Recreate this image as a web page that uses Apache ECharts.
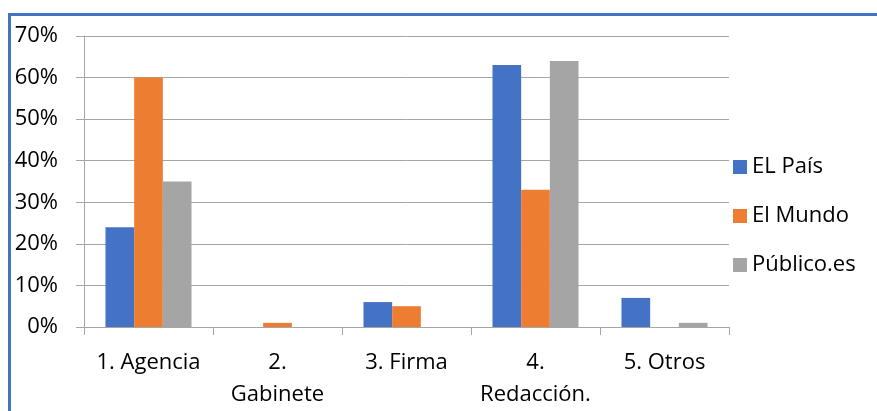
<!DOCTYPE html>
<html><head><meta charset="utf-8">
<script src="https://cdn.jsdelivr.net/npm/echarts@6/dist/echarts.min.js"></script>
<style>
html,body{margin:0;padding:0;background:#fff;}
#frame{position:absolute;left:8px;top:13px;width:869px;height:398px;border-top:3px solid #4472C4;border-left:3px solid #4472C4;box-sizing:border-box;}
#c{position:absolute;left:0;top:0;width:877px;height:411px;}
</style></head>
<body>
<div id="frame"></div>
<div id="c"></div>
<script>
const categories = ["1. Agencia", "2.\nGabinete", "3. Firma", "4.\nRedacción.", "5. Otros"];
const elPais = [24, 0, 6, 63, 7];
const elMundo = [60, 1, 5, 33, 0];
const publico = [35, 0, 0, 64, 1];
const seriesNames = ["EL País", "El Mundo", "Público.es"];
const colors = ["#4472C4", "#ED7D31", "#A5A5A5"];
const FONT = "Open Sans";
const FS = 22;
const chart = echarts.init(document.getElementById('c'));
const mk = (name, data, color) => ({
  name, type: 'bar', data, itemStyle: {color},
  barGap: '0%', barCategoryGap: '33.3%'
});
chart.setOption({
  animation: false,
  textStyle: {fontFamily: FONT},
  grid: {left: 84, right: 148, top: 36, bottom: 84},
  legend: {
    orient: 'vertical', left: 728, top: 151, itemWidth: 14, itemHeight: 14, itemGap: 27,
    icon: 'rect',
    textStyle: {fontFamily: FONT, fontSize: FS, color: '#000', lineHeight: 22},
    data: seriesNames
  },
  xAxis: {
    type: 'category', data: categories,
    axisLine: {lineStyle: {color: '#A6A6A6', width: 1}},
    axisTick: {show: true, length: 8, lineStyle: {color: '#A6A6A6'}},
    axisLabel: {fontFamily: FONT, fontSize: FS, color: '#000', margin: 20, lineHeight: 32, interval: 0}
  },
  yAxis: {
    type: 'value', min: 0, max: 70, interval: 10,
    axisLine: {show: true, lineStyle: {color: '#A6A6A6'}},
    axisTick: {show: true, length: 8, lineStyle: {color: '#A6A6A6'}},
    splitLine: {lineStyle: {color: '#A6A6A6', width: 1}},
    axisLabel: {fontFamily: FONT, fontSize: FS, color: '#000', margin: 26, formatter: '{value}%'}
  },
  series: [mk(seriesNames[0], elPais, colors[0]), mk(seriesNames[1], elMundo, colors[1]), mk(seriesNames[2], publico, colors[2])]
});
</script>
</body></html>
